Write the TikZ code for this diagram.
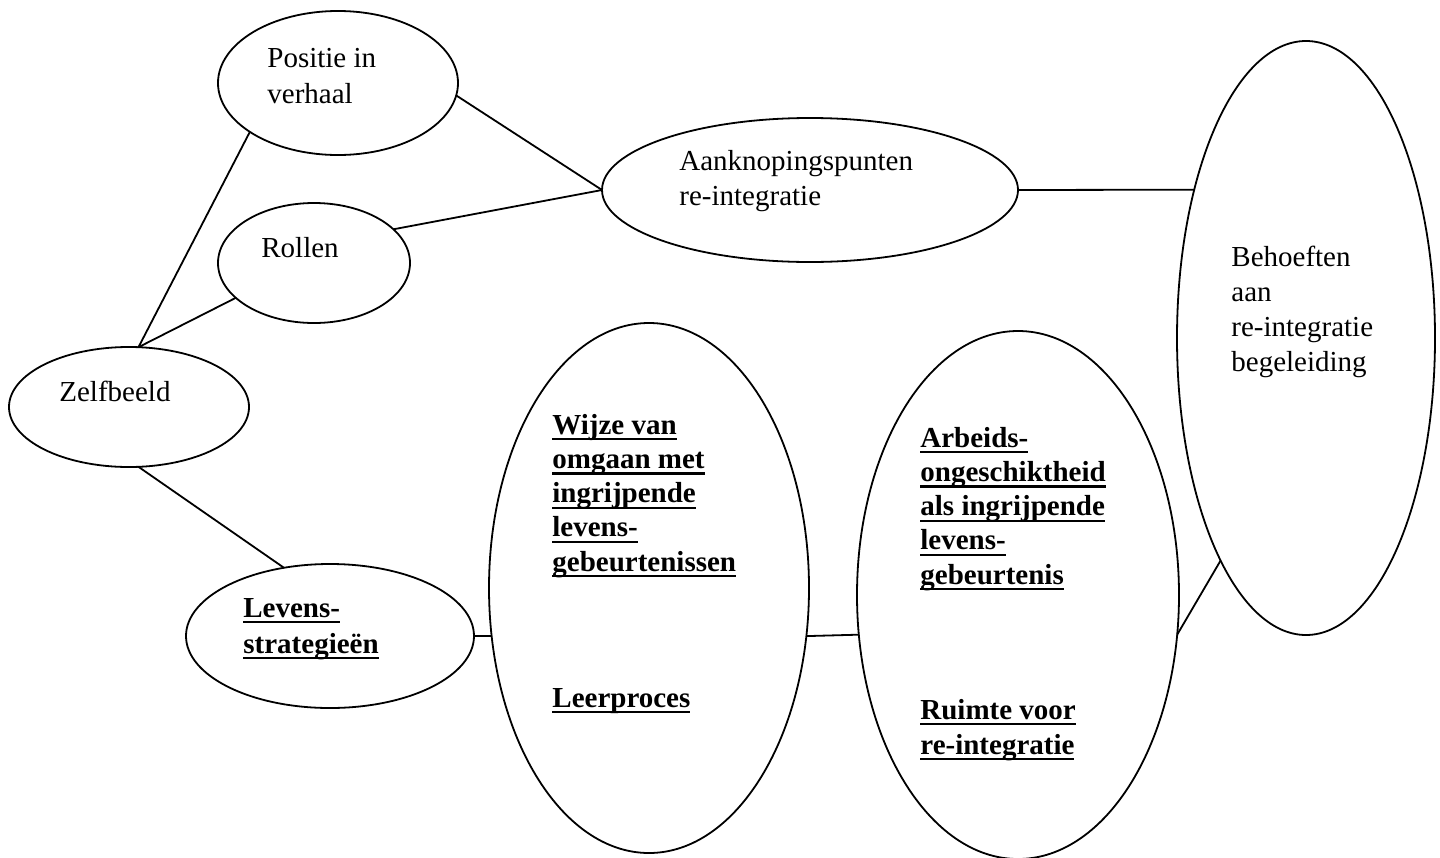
\documentclass[tikz,border=0pt]{standalone}
\usepackage{fontspec}
\setmainfont{Liberation Serif}
\usetikzlibrary{shapes.geometric}
\newcommand{\ulbox}[1]{\setbox0\hbox{#1}\rlap{\rule[-3.2pt]{\wd0}{1.2pt}}\box0}
\begin{document}
\begin{tikzpicture}[x=0.5pt,y=-0.5pt,
  oval/.style={draw, ellipse, line width=0.9pt, inner sep=0pt, outer sep=0pt},
  conn/.style={line width=0.9pt},
  txt/.style={anchor=base west, inner sep=0pt, font=\fontsize{14.5}{16}\selectfont},
  btxt/.style={anchor=base west, inner sep=0pt, font=\fontsize{14.5}{16}\selectfont\bfseries}]
\useasboundingbox (0,0) rectangle (1440,857);

% ellipses
\node[oval, minimum width=120pt, minimum height=72pt]  (pos) at (338,83) {};
\node[oval, minimum width=96pt,  minimum height=60pt]  (rol) at (314,263) {};
\node[oval, minimum width=120pt, minimum height=60pt]  (zel) at (129,407) {};
\node[oval, minimum width=208pt, minimum height=72pt]  (aan) at (810,190) {};
\node[oval, minimum width=129pt, minimum height=297pt] (beh) at (1306,338) {};
\node[oval, minimum width=144pt, minimum height=72pt]  (lev) at (330,636) {};
\node[oval, minimum width=160pt, minimum height=265pt] (wij) at (649,588) {};
\node[oval, minimum width=161pt, minimum height=264pt] (arb) at (1018,595) {};

% texts
\node[txt] (pos1) at (267,67)  {Positie in};
\node[txt] (pos2) at (267,103) {verhaal};
\node[txt] (rol1) at (261,257) {Rollen};
\node[txt] (zel1) at (59,401)  {Zelfbeeld};
\node[txt] (aan1) at (679,170) {Aanknopingspunten};
\node[txt] (aan2) at (679,205) {re-integratie};
\node[txt] (beh1) at (1231,266) {Behoeften};
\node[txt] (beh2) at (1231,301) {aan};
\node[txt] (beh3) at (1231,336) {re-integratie};
\node[txt] (beh4) at (1231,371) {begeleiding};

\node[btxt] (lev1) at (243,617) {\ulbox{Levens-}};
\node[btxt] (lev2) at (243,653) {\ulbox{strategieën}};

\node[btxt] (wij1) at (552,434)    {\ulbox{Wijze van}};
\node[btxt] (wij2) at (552,468.25) {\ulbox{omgaan met}};
\node[btxt] (wij3) at (552,502.5)  {\ulbox{ingrijpende}};
\node[btxt] (wij4) at (552,536.75) {\ulbox{levens-}};
\node[btxt] (wij5) at (552,571)    {\ulbox{gebeurtenissen}};
\node[btxt] (wij6) at (552,707)    {\ulbox{Leerproces}};

\node[btxt] (arb1) at (920,447)    {\ulbox{Arbeids-}};
\node[btxt] (arb2) at (920,481.25) {\ulbox{ongeschiktheid}};
\node[btxt] (arb3) at (920,515.5)  {\ulbox{als ingrijpende}};
\node[btxt] (arb4) at (920,549.75) {\ulbox{levens-}};
\node[btxt] (arb5) at (920,584)    {\ulbox{gebeurtenis}};
\node[btxt] (arb6) at (920,719)    {\ulbox{Ruimte voor}};
\node[btxt] (arb7) at (920,754)    {\ulbox{re-integratie}};

% connectors
\draw[conn] (zel.81.5) -- (pos.-151.2);
\draw[conn] (zel.81.5) -- (rol.204.8);
\draw[conn] (pos.-6.7) -- (aan.west);
\draw[conn] (rol.23.9) -- (aan.west);
\draw[conn] (aan.east) -- (beh.127);
\draw[conn] (zel.-81.6) -- (lev.124.6);
\draw[conn] (lev.east) -- (wij.197);
\draw[conn] (wij.-17) -- (arb.194.5);
\draw[conn] (arb.-14.5) -- (beh.249.3);
\end{tikzpicture}
\end{document}
